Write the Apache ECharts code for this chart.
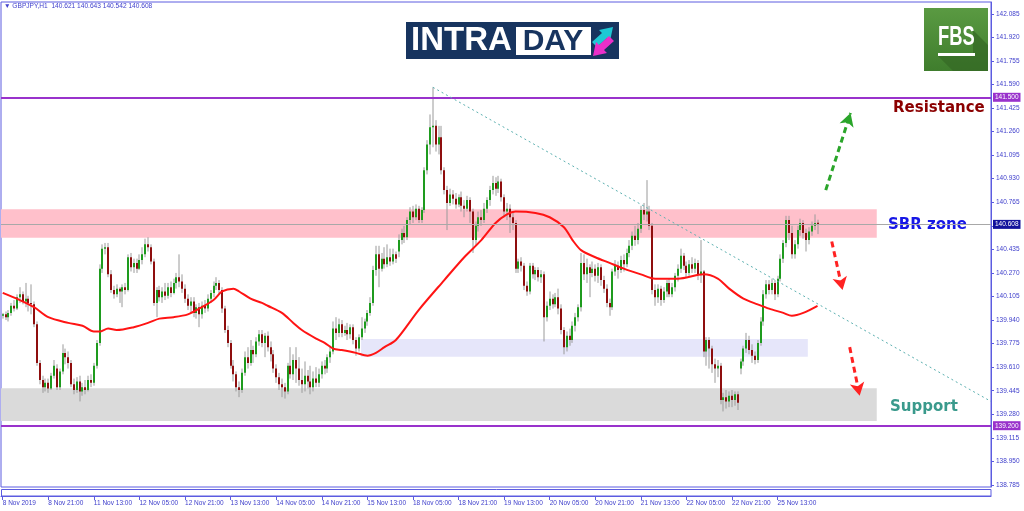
<!DOCTYPE html>
<html>
<head>
<meta charset="utf-8">
<title>GBPJPY H1</title>
<script src="https://cdn.jsdelivr.net/npm/echarts@6.0.0/dist/echarts.min.js"></script>
<style>
html, body { margin: 0; padding: 0; background: #fff; }
#chart { width: 1024px; height: 511px; }
</style>
</head>
<body>
<div id="chart"></div>
<script>
// ---- data ----
const header = 'GBPJPY,H1  140.621 140.643 140.542 140.608';
const timeLabels = ['8 Nov 2019', '8 Nov 21:00', '11 Nov 13:00', '12 Nov 05:00', '12 Nov 21:00', '13 Nov 13:00',
  '14 Nov 05:00', '14 Nov 21:00', '15 Nov 13:00', '18 Nov 05:00', '18 Nov 21:00', '19 Nov 13:00',
  '20 Nov 05:00', '20 Nov 21:00', '21 Nov 13:00', '22 Nov 05:00', '22 Nov 21:00', '25 Nov 13:00'];
const barsPerLabel = 16;
const priceTicks = [138.785, 138.950, 139.115, 139.280, 139.445, 139.610, 139.775, 139.940, 140.105, 140.270,
  140.435, 140.600, 140.765, 140.930, 141.095, 141.260, 141.425, 141.590, 141.755, 141.920, 142.085];

// [open, close, low, high] per hourly bar
const candles = [
  [139.97,139.98,139.95,139.99],[139.98,139.96,139.94,140.00],[139.96,139.99,139.93,140.01],[139.99,140.04,139.97,140.06],
  [140.04,140.02,140.00,140.08],[140.02,140.10,140.01,140.12],[140.10,140.12,140.06,140.17],[140.12,140.07,140.05,140.14],
  [140.07,140.09,140.03,140.20],[140.09,140.06,140.00,140.11],[140.06,140.05,139.98,140.19],[140.05,139.91,139.89,140.07],
  [139.91,139.64,139.62,139.93],[139.64,139.52,139.49,139.66],[139.52,139.47,139.43,139.55],[139.47,139.50,139.44,139.53],
  [139.50,139.46,139.43,139.53],[139.46,139.55,139.45,139.57],[139.55,139.62,139.53,139.66],[139.60,139.47,139.45,139.63],
  [139.47,139.58,139.45,139.60],[139.58,139.71,139.56,139.77],[139.71,139.68,139.63,139.74],[139.68,139.64,139.60,139.72],
  [139.64,139.49,139.47,139.66],[139.49,139.45,139.42,139.53],[139.45,139.51,139.43,139.54],[139.51,139.44,139.37,139.55],
  [139.44,139.47,139.41,139.50],[139.47,139.45,139.42,139.52],[139.45,139.52,139.44,139.55],[139.52,139.50,139.47,139.56],
  [139.50,139.62,139.48,139.64],[139.62,139.78,139.60,139.80],[139.78,140.30,139.76,140.33],[140.30,140.44,140.27,140.47],
  [140.44,140.45,140.40,140.48],[140.45,140.26,140.24,140.48],[140.26,140.15,140.13,140.29],[140.15,140.12,140.09,140.18],
  [140.12,140.16,140.10,140.19],[140.16,140.14,140.06,140.17],[140.14,140.17,140.03,140.19],[140.17,140.15,140.12,140.20],
  [140.15,140.38,140.14,140.40],[140.38,140.31,140.28,140.41],[140.31,140.34,140.27,140.37],[140.34,140.30,140.27,140.37],
  [140.30,140.36,140.29,140.40],[140.36,140.40,140.33,140.45],[140.40,140.47,140.38,140.51],[140.47,140.45,140.42,140.52],
  [140.45,140.35,140.33,140.47],[140.35,140.06,140.04,140.37],[140.06,140.15,139.96,140.17],[140.15,140.10,140.07,140.18],
  [140.10,140.14,140.06,140.17],[140.14,140.11,140.08,140.20],[140.11,140.17,140.09,140.20],[140.17,140.13,140.10,140.21],
  [140.13,140.20,140.12,140.23],[140.20,140.24,140.16,140.27],[140.24,140.21,140.17,140.40],[140.21,140.16,140.13,140.26],
  [140.16,140.09,140.06,140.19],[140.09,140.04,140.01,140.12],[140.04,140.07,139.99,140.10],[140.07,139.99,139.96,140.10],
  [139.99,140.03,139.95,140.05],[140.03,139.98,139.89,140.06],[139.98,140.04,139.95,140.07],[140.04,140.02,139.99,140.08],
  [140.02,140.09,140.00,140.12],[140.09,140.13,140.06,140.15],[140.13,140.18,140.10,140.21],[140.18,140.20,140.15,140.24],
  [140.20,140.15,140.12,140.22],[140.15,140.02,139.99,140.17],[140.02,139.87,139.85,140.04],[139.87,139.78,139.75,139.90],
  [139.78,139.62,139.60,139.80],[139.62,139.56,139.51,139.66],[139.56,139.47,139.44,139.58],[139.47,139.45,139.40,139.51],
  [139.45,139.57,139.43,139.60],[139.57,139.68,139.55,139.72],[139.68,139.64,139.60,139.75],[139.64,139.73,139.62,139.80],
  [139.73,139.70,139.64,139.76],[139.70,139.79,139.68,139.82],[139.79,139.84,139.76,139.87],[139.84,139.78,139.75,139.87],
  [139.78,139.83,139.68,139.85],[139.83,139.75,139.72,139.86],[139.75,139.70,139.65,139.79],[139.70,139.60,139.57,139.73],
  [139.60,139.54,139.50,139.63],[139.54,139.49,139.45,139.57],[139.49,139.47,139.40,139.53],[139.47,139.44,139.39,139.50],
  [139.44,139.62,139.42,139.64],[139.62,139.56,139.53,139.75],[139.56,139.66,139.52,139.70],[139.66,139.60,139.50,139.75],
  [139.60,139.52,139.48,139.68],[139.52,139.49,139.43,139.60],[139.49,139.55,139.44,139.65],[139.55,139.51,139.46,139.59],
  [139.51,139.47,139.42,139.62],[139.47,139.53,139.44,139.58],[139.53,139.50,139.47,139.61],[139.50,139.56,139.47,139.60],
  [139.56,139.62,139.53,139.65],[139.62,139.60,139.56,139.66],[139.60,139.68,139.57,139.70],[139.68,139.72,139.64,139.76],
  [139.72,139.88,139.70,139.93],[139.88,139.85,139.80,139.96],[139.85,139.91,139.82,139.95],[139.91,139.85,139.82,139.94],
  [139.85,139.87,139.83,139.90],[139.87,139.84,139.80,139.92],[139.84,139.89,139.81,139.91],[139.89,139.80,139.77,139.91],
  [139.80,139.74,139.69,139.82],[139.74,139.82,139.72,139.84],[139.82,139.88,139.80,139.96],[139.88,139.93,139.85,139.95],
  [139.93,139.99,139.90,140.01],[139.99,140.06,139.97,140.10],[140.06,140.29,140.04,140.32],[140.29,140.40,140.25,140.46],
  [140.40,140.30,140.17,140.46],[140.30,140.37,140.28,140.41],[140.37,140.33,140.30,140.45],[140.33,140.38,140.31,140.47],
  [140.38,140.35,140.32,140.44],[140.35,140.40,140.33,140.44],[140.40,140.37,140.34,140.42],[140.42,140.50,140.38,140.54],
  [140.50,140.55,140.47,140.58],[140.55,140.52,140.48,140.60],[140.52,140.64,140.50,140.66],[140.64,140.70,140.61,140.73],
  [140.70,140.66,140.62,140.74],[140.66,140.72,140.64,140.75],[140.72,140.64,140.62,140.74],[140.64,140.71,140.62,140.73],
  [140.71,140.99,140.69,141.01],[140.99,141.17,140.96,141.20],[141.17,141.29,141.10,141.38],[141.29,141.30,141.15,141.57],
  [141.30,141.17,141.12,141.34],[141.17,141.22,141.10,141.30],[141.22,140.99,140.96,141.30],[140.99,140.85,140.82,141.01],
  [140.85,140.76,140.57,140.88],[140.76,140.82,140.74,140.86],[140.82,140.79,140.75,140.85],[140.79,140.75,140.72,140.83],
  [140.75,140.80,140.73,140.82],[140.80,140.74,140.70,140.84],[140.74,140.72,140.66,140.78],[140.72,140.78,140.70,140.81],
  [140.78,140.70,140.62,140.80],[140.70,140.50,140.41,140.72],[140.50,140.60,140.46,140.63],[140.60,140.66,140.56,140.70],
  [140.66,140.64,140.60,140.71],[140.64,140.72,140.62,140.76],[140.72,140.78,140.69,140.80],[140.78,140.85,140.74,140.88],
  [140.85,140.90,140.82,140.95],[140.90,140.86,140.81,140.94],[140.86,140.91,140.83,140.95],[140.91,140.80,140.77,140.93],
  [140.80,140.70,140.66,140.82],[140.70,140.72,140.64,140.76],[140.72,140.66,140.55,140.75],[140.66,140.62,140.57,140.69],
  [140.62,140.30,140.27,140.64],[140.30,140.35,140.27,140.37],[140.35,140.32,140.28,140.38],[140.32,140.18,140.15,140.34],
  [140.18,140.14,140.11,140.21],[140.14,140.32,140.12,140.34],[140.32,140.26,140.23,140.34],[140.26,140.29,140.22,140.31],
  [140.29,140.24,140.21,140.31],[140.24,140.26,140.20,140.29],[140.26,139.96,139.79,140.28],[139.96,140.04,139.93,140.07],
  [140.04,140.09,140.01,140.14],[140.09,140.05,140.02,140.12],[140.05,140.10,140.03,140.13],[140.10,140.02,139.98,140.16],
  [140.02,139.87,139.84,140.05],[139.87,139.75,139.70,139.89],[139.75,139.83,139.72,139.86],[139.83,139.80,139.76,139.88],
  [139.80,139.90,139.78,139.93],[139.90,139.96,139.86,139.99],[139.96,140.03,139.93,140.05],[140.03,140.34,140.00,140.41],
  [140.34,140.26,140.22,140.40],[140.26,140.31,140.20,140.37],[140.31,140.27,140.10,140.33],[140.27,140.30,140.24,140.35],
  [140.30,140.25,140.21,140.33],[140.25,140.31,140.20,140.34],[140.31,140.22,140.18,140.33],[140.22,140.16,140.13,140.25],
  [140.16,140.06,140.03,140.19],[140.06,140.03,139.97,140.09],[140.03,140.28,140.01,140.30],[140.28,140.32,140.25,140.36],
  [140.32,140.29,140.23,140.35],[140.29,140.36,140.27,140.39],[140.36,140.33,140.28,140.40],[140.33,140.41,140.31,140.44],
  [140.41,140.46,140.38,140.50],[140.46,140.53,140.43,140.56],[140.53,140.50,140.46,140.60],[140.50,140.58,140.47,140.62],
  [140.58,140.71,140.55,140.74],[140.71,140.68,140.64,140.76],[140.68,140.70,140.63,140.92],[140.70,140.60,140.57,140.74],
  [140.60,140.15,140.12,140.62],[140.15,140.10,140.04,140.19],[140.10,140.16,140.06,140.19],[140.16,140.08,140.04,140.18],
  [140.08,140.14,140.06,140.17],[140.14,140.20,140.10,140.22],[140.20,140.12,140.10,140.23],[140.12,140.17,140.10,140.20],
  [140.17,140.25,140.14,140.27],[140.25,140.30,140.21,140.33],[140.30,140.39,140.27,140.44],[140.39,140.32,140.29,140.41],
  [140.32,140.27,140.24,140.35],[140.27,140.33,140.25,140.36],[140.33,140.30,140.27,140.38],[140.30,140.34,140.27,140.37],
  [140.34,140.26,140.22,140.36],[140.26,140.28,140.20,140.50],[140.28,139.72,139.68,140.29],[139.72,139.80,139.62,139.82],
  [139.80,139.74,139.60,139.82],[139.74,139.63,139.57,139.76],[139.63,139.60,139.50,139.67],[139.60,139.62,139.54,139.66],
  [139.62,139.38,139.35,139.64],[139.38,139.40,139.30,139.43],[139.40,139.37,139.32,139.45],[139.37,139.41,139.33,139.44],
  [139.41,139.38,139.33,139.45],[139.38,139.42,139.34,139.44],[139.42,139.36,139.31,139.44],[139.60,139.65,139.56,139.67],
  [139.65,139.74,139.62,139.76],[139.74,139.80,139.71,139.85],[139.80,139.73,139.70,139.83],[139.73,139.69,139.64,139.77],
  [139.69,139.66,139.63,139.72],[139.66,139.78,139.64,139.80],[139.78,139.93,139.76,139.96],[139.93,140.12,139.90,140.15],
  [140.12,140.19,140.09,140.22],[140.19,140.15,140.12,140.22],[140.15,140.20,140.12,140.23],[140.20,140.12,140.08,140.22],
  [140.12,140.23,140.10,140.25],[140.23,140.37,140.21,140.40],[140.37,140.48,140.34,140.50],[140.48,140.64,140.45,140.67],
  [140.64,140.55,140.50,140.67],[140.55,140.40,140.37,140.60],[140.40,140.47,140.37,140.50],[140.47,140.57,140.44,140.60],
  [140.57,140.62,140.53,140.65],[140.62,140.55,140.51,140.64],[140.55,140.50,140.42,140.58],[140.50,140.56,140.47,140.59],
  [140.56,140.60,140.53,140.63],[140.60,140.62,140.57,140.68],[140.621,140.608,140.542,140.643]
];

// red moving average, read at [bar index, price]
const maPoints = [
  [0,140.13],[6,140.08],[11,140.03],[16,139.96],[23,139.92],[28,139.90],[32,139.86],[34,139.86],[37,139.88],
  [40,139.87],[46,139.89],[51,139.92],[55,139.95],[60,139.96],[65,139.98],[69,140.02],[74,140.08],[77,140.14],
  [81,140.16],[83,140.14],[87,140.09],[91,140.06],[93,140.04],[98,139.99],[102,139.92],[105,139.87],[110,139.81],
  [113,139.78],[116,139.74],[119,139.73],[124,139.71],[128,139.69],[131,139.71],[134,139.75],[138,139.80],
  [146,140.01],[155,140.22],[162,140.38],[168,140.50],[173,140.62],[177,140.68],[180,140.70],[187,140.69],
  [192,140.66],[197,140.59],[200,140.50],[203,140.43],[208,140.38],[213,140.34],[218,140.30],[224,140.26],
  [229,140.23],[237,140.23],[246,140.26],[251,140.23],[255,140.16],[260,140.09],[265,140.05],[269,140.02],
  [274,139.99],[277,139.97],[281,139.99],[286,140.04]
];

const resistance = 141.5;
const support = 139.2;
const lastPrice = 140.608;
const sbrZone = [140.517, 140.716];
const retestZone = [139.683, 139.807];
const supportZone = [139.233, 139.462];

// ---- chart ----
const AXIS = '#5c5ce0';
const TEXT = '#4040cc';
const SMALL = '"Liberation Sans", Arial, sans-serif';
const labelIdx = timeLabels.map((_, k) => k * barsPerLabel);
const bars = candles.map((c, i) => [i, c[0], c[1], c[2], c[3]]);

function renderCandle(params, api) {
  const i = api.value(0), o = api.value(1), c = api.value(2);
  const hi = api.coord([i, api.value(4)]);
  const lo = api.coord([i, api.value(3)]);
  const top = api.coord([i, Math.max(o, c)]);
  const bot = api.coord([i, Math.min(o, c)]);
  const w = Math.max(1, Math.round(api.size([1, 0])[0] * 0.7));
  const x = Math.round(hi[0]);
  return {
    type: 'group',
    children: [
      { type: 'line', shape: { x1: x, y1: hi[1], x2: x, y2: lo[1] }, style: { stroke: '#9a9a9a', lineWidth: 1 } },
      { type: 'rect', shape: { x: x - w / 2, y: top[1], width: w, height: Math.max(1, bot[1] - top[1]) },
        style: { fill: c >= o ? '#1e9b1e' : '#8e0e0e' } }
    ]
  };
}

function levelLabel(value, bg) {
  return {
    show: true, position: 'end', distance: 2,
    formatter: () => value.toFixed(3),
    color: '#fff', backgroundColor: bg, fontSize: 6.5, fontFamily: SMALL, padding: [1, 2, 1, 2]
  };
}

function arrow(from, to, color) {
  return [
    { coord: from, symbol: 'none', lineStyle: { color: color, width: 3, type: [6, 4] }, label: { show: false } },
    { coord: to, symbol: 'arrow', symbolSize: [11, 13] }
  ];
}

const chart = echarts.init(document.getElementById('chart'));
const option = {
  animation: false,
  backgroundColor: '#fff',
  grid: {
    left: 1, right: 33, top: 2, bottom: 24,
    show: true, borderColor: AXIS, borderWidth: 1, backgroundColor: '#fff',
    containLabel: false, outerBoundsMode: 'none'
  },
  xAxis: {
    type: 'value', min: -0.6, max: 346.9, offset: 9,
    splitLine: { show: false },
    axisLine: { show: true, onZero: false, lineStyle: { color: AXIS } },
    axisTick: { show: true, customValues: labelIdx, length: 4, lineStyle: { color: AXIS } },
    axisLabel: {
      customValues: labelIdx,
      formatter: v => timeLabels[Math.round(v / barsPerLabel)] || '',
      color: TEXT, fontSize: 6.5, fontFamily: SMALL, align: 'left', margin: 4
    }
  },
  yAxis: {
    type: 'value', position: 'right', min: 138.7707, max: 142.1675, scale: true,
    splitLine: { show: false },
    axisLine: { show: true, onZero: false, lineStyle: { color: AXIS } },
    axisTick: { show: true, customValues: priceTicks, length: 3, lineStyle: { color: AXIS } },
    axisLabel: {
      customValues: priceTicks.filter(v => Math.abs(v - lastPrice) > 0.03),
      formatter: v => v.toFixed(3),
      color: TEXT, fontSize: 6.5, fontFamily: SMALL, margin: 5
    }
  },
  series: [
    {
      name: 'levels', type: 'line', data: [], z: 1, silent: true,
      markArea: {
        silent: true,
        data: [
          [{ xAxis: -0.6, yAxis: sbrZone[0], itemStyle: { color: '#ffc0cb', opacity: 1 } }, { xAxis: 306.8, yAxis: sbrZone[1] }],
          [{ xAxis: 125.8, yAxis: retestZone[0], itemStyle: { color: '#e6e6fa', opacity: 1 } }, { xAxis: 282.6, yAxis: retestZone[1] }],
          [{ xAxis: -0.6, yAxis: supportZone[0], itemStyle: { color: '#dadada', opacity: 1 } }, { xAxis: 306.8, yAxis: supportZone[1] }]
        ]
      },
      markLine: {
        silent: true, symbol: ['none', 'none'], animation: false,
        data: [
          { yAxis: resistance, lineStyle: { color: '#9932cc', width: 2, type: 'solid' }, label: levelLabel(resistance, '#9932cc') },
          { yAxis: support, lineStyle: { color: '#9932cc', width: 2, type: 'solid' }, label: levelLabel(support, '#9932cc') },
          { yAxis: lastPrice, lineStyle: { color: '#a8a8a8', width: 1, type: 'solid' }, label: levelLabel(lastPrice, '#12129c') },
          [
            { coord: [151, 141.57], lineStyle: { color: '#5cb0b0', width: 1, type: [2, 3] }, label: { show: false } },
            { coord: [346.9, 139.37] }
          ],
          arrow([288.9, 140.85], [297.6, 141.39], '#2aa52a'),
          arrow([291.0, 140.49], [294.8, 140.15], '#ff2222'),
          arrow([297.3, 139.75], [300.8, 139.41], '#ff2222')
        ]
      }
    },
    {
      name: 'GBPJPY', type: 'custom', renderItem: renderCandle, data: bars,
      encode: { x: 0, y: [1, 2, 3, 4] }, z: 3, silent: true
    },
    {
      name: 'MA', type: 'line', data: maPoints, smooth: 0.3, showSymbol: false, silent: true,
      lineStyle: { color: '#ff1414', width: 2 }, z: 4
    }
  ],
  graphic: [
    { type: 'text', x: 4, y: 6, style: { text: '▼ ' + header, fill: TEXT, font: '6.6px ' + SMALL, verticalAlign: 'middle' } },
    // sub-window frame under the price pane
    { type: 'rect', shape: { x: 1.5, y: 489.5, width: 989.5, height: 6.5 }, style: { fill: 'none', stroke: AXIS, lineWidth: 1 } },
    // INTRADAY badge
    { type: 'rect', shape: { x: 406, y: 22, width: 213, height: 37 }, style: { fill: '#17345f' } },
    { type: 'text', x: 411, y: 41, style: { text: 'INTRA', fill: '#fff', font: 'bold 33px "Liberation Sans", Arial, sans-serif', verticalAlign: 'middle' } },
    { type: 'rect', shape: { x: 516, y: 27, width: 75, height: 28 }, style: { fill: '#fff' } },
    { type: 'text', x: 553, y: 41.5, style: { text: 'DAY', fill: '#17345f', font: 'bold 30px "Liberation Sans", Arial, sans-serif', align: 'center', verticalAlign: 'middle' } },
    { type: 'polygon', shape: { points: [[592, 42], [602, 33], [599, 30], [613, 27], [610, 41], [607, 38], [597, 47]] }, style: { fill: '#1ec8d4' } },
    { type: 'polygon', shape: { points: [[614, 41], [604, 50], [607, 53], [593, 56], [596, 42], [599, 45], [609, 36]] }, style: { fill: '#ea2fc9' } },
    // FBS badge
    { type: 'rect', shape: { x: 924, y: 8, width: 64, height: 63 },
      style: { fill: new echarts.graphic.LinearGradient(0, 0, 0, 1, [{ offset: 0, color: '#5a9a42' }, { offset: 1, color: '#3f7d2d' }]) } },
    { type: 'polygon', shape: { points: [[973, 30], [988, 45], [988, 71], [953, 71], [938, 56], [973, 56]] }, style: { fill: '#356a26', opacity: 0.75 } },
    { type: 'text', x: 938, y: 38, scaleX: 0.68, style: { text: 'FBS', fill: '#fff', font: 'bold 27px "Liberation Sans", Arial, sans-serif', verticalAlign: 'middle' } },
    { type: 'rect', shape: { x: 938, y: 53, width: 37, height: 3 }, style: { fill: '#fff' } },
    // zone captions
    { type: 'text', x: 893, y: 108, style: { text: 'Resistance', fill: '#8b0000', font: 'bold 15px "DejaVu Sans", sans-serif', verticalAlign: 'middle' } },
    { type: 'text', x: 888, y: 225, style: { text: 'SBR zone', fill: '#1717e6', font: 'bold 15px "DejaVu Sans", sans-serif', verticalAlign: 'middle' } },
    { type: 'text', x: 890, y: 407, style: { text: 'Support', fill: '#3a9a8c', font: 'bold 15px "DejaVu Sans", sans-serif', verticalAlign: 'middle' } }
  ]
};
chart.setOption(option);
</script>
</body>
</html>
